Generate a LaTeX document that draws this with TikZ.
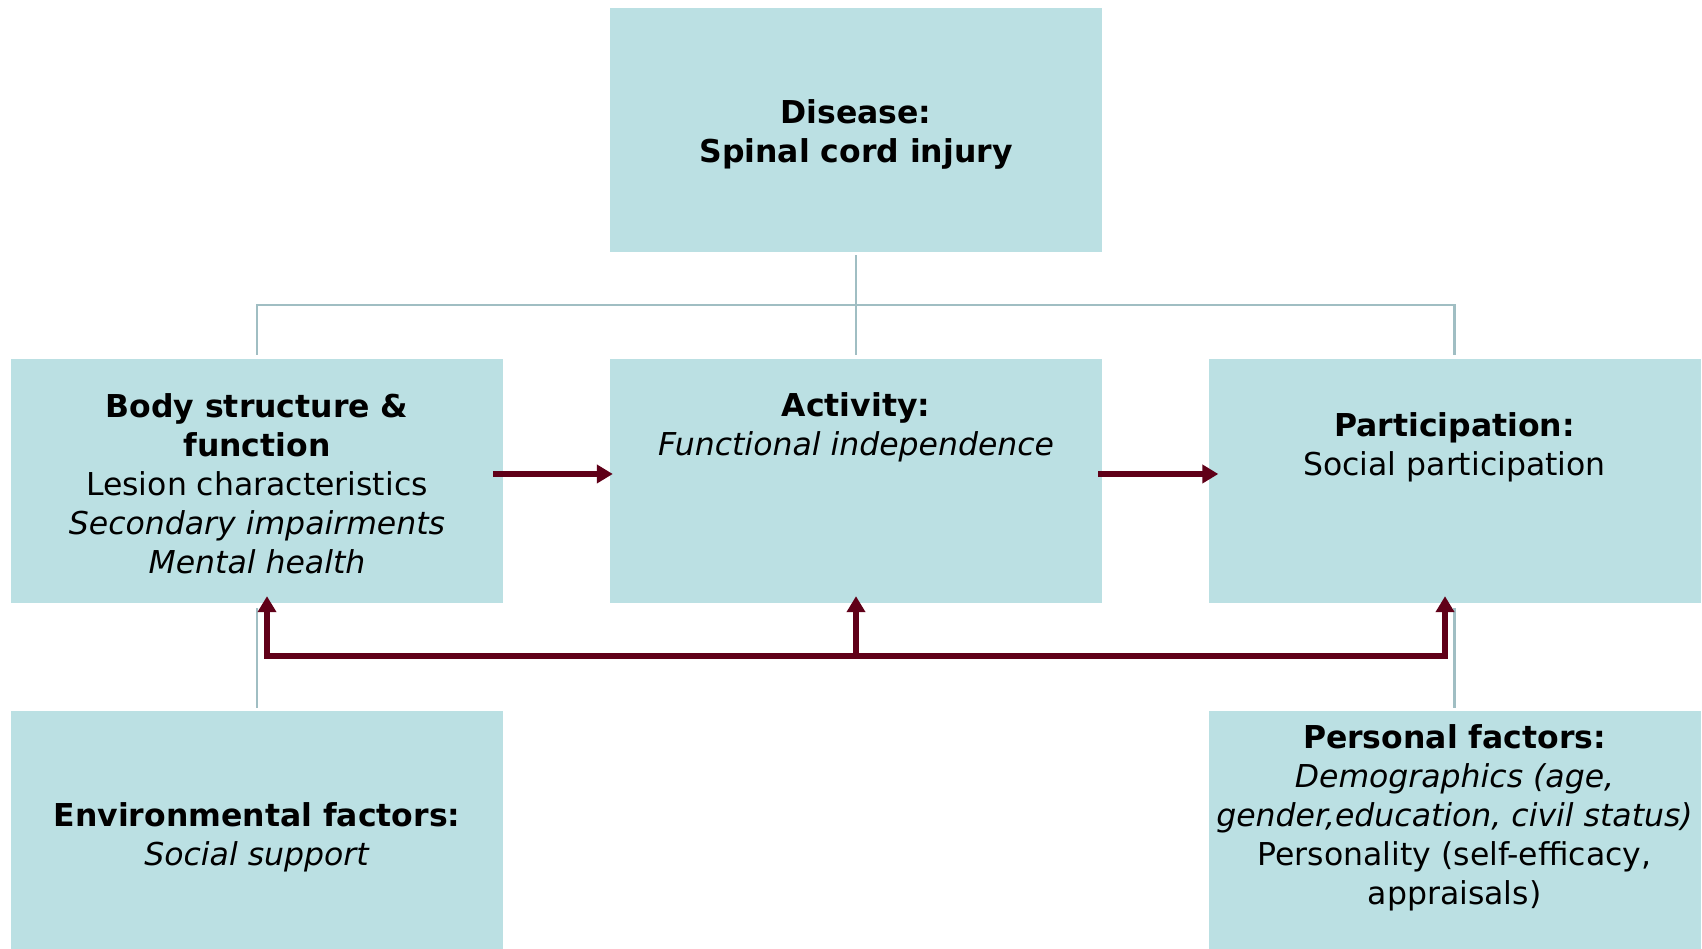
\documentclass[tikz,border=0pt]{standalone}
\usepackage{fontspec}
\setmainfont{DejaVu Sans}
\usetikzlibrary{arrows.meta}
\definecolor{boxfill}{RGB}{187,224,227}
\definecolor{treeline}{RGB}{160,190,195}
\definecolor{darkred}{RGB}{96,0,24}

\begin{document}
\begin{tikzpicture}[x=1pt, y=1pt,
	box/.style = {fill=boxfill, minimum width=492pt, minimum height=244pt, inner sep=0pt},
	txt/.style = {align=center, inner sep=0pt, font=\fontsize{31.5}{39}\selectfont},
	tree/.style = {draw=treeline, line width=2.5pt},
	redarrow/.style = {draw=darkred, line width=6pt, -{Triangle[length=16pt, width=18pt]}}]
	\useasboundingbox (0,0) rectangle (1702,949);
	% boxes
	\node[box] (dis) at (856,819) {};
	\node[box] (body) at (257,468) {};
	\node[box] (act) at (856,468) {};
	\node[box] (part) at (1454.5,468) {};
	\node[box, minimum height=238pt] (env) at (257,119) {};
	\node[box, minimum height=238pt] (pers) at (1454.5,119) {};
	% texts
	\node[txt, yshift=-4pt] (distxt) at (dis) {\textbf{Disease:}\\\textbf{Spinal cord injury}};
	\node[txt, yshift=-3pt] (bodytxt) at (body) {\textbf{Body structure \&}\\\textbf{function}\\Lesion characteristics\\\textit{Secondary impairments}\\\textit{Mental health}};
	\node[txt, yshift=54pt] (acttxt) at (act) {\textbf{Activity:}\\\textit{Functional independence}};
	\node[txt, yshift=34pt] (parttxt) at (part) {\textbf{Participation:}\\Social participation};
	\node[txt, yshift=-7pt] (envtxt) at (env) {\textbf{Environmental factors:}\\\textit{Social support}};
	\node[txt, yshift=12pt] (perstxt) at (pers) {\textbf{Personal factors:}\\\textit{Demographics (age,}\\\textit{gender,education, civil status)}\\Personality (self-efficacy,\\appraisals)};
	% tree lines
	\coordinate (split) at (856,644);
	\draw[tree, shorten <=3pt] (dis.south) -- (split);
	\draw[tree, shorten >=4pt] (split) -- (act.north);
	\draw[tree, shorten >=4pt] (split) -| (body.north);
	\draw[tree, shorten >=4pt] (split) -| (part.north);
	\draw[tree, shorten <=5pt, shorten >=3pt] (body.south) -- (env.north);
	\draw[tree, shorten <=5pt, shorten >=3pt] (part.south) -- (pers.north);
	% arrows
	\draw[redarrow] ([xshift=-10pt]body.east |- 0,475) -- ([xshift=3pt]act.west |- 0,475);
	\draw[redarrow] ([xshift=-4pt]act.east |- 0,475) -- ([xshift=10pt]part.west |- 0,475);
	\coordinate (fbl) at (267,293);
	\coordinate (fbm) at (856,293);
	\coordinate (fbr) at (1445,293);
	\draw[draw=darkred, line width=6pt] ([xshift=-3pt]fbl) -- ([xshift=3pt]fbr);
	\draw[redarrow] ([yshift=-3pt]fbl) -- ([yshift=7pt]fbl |- body.south);
	\draw[redarrow] (fbm) -- ([yshift=7pt]fbm |- act.south);
	\draw[redarrow] ([yshift=-3pt]fbr) -- ([yshift=7pt]fbr |- part.south);
\end{tikzpicture}
\end{document}
